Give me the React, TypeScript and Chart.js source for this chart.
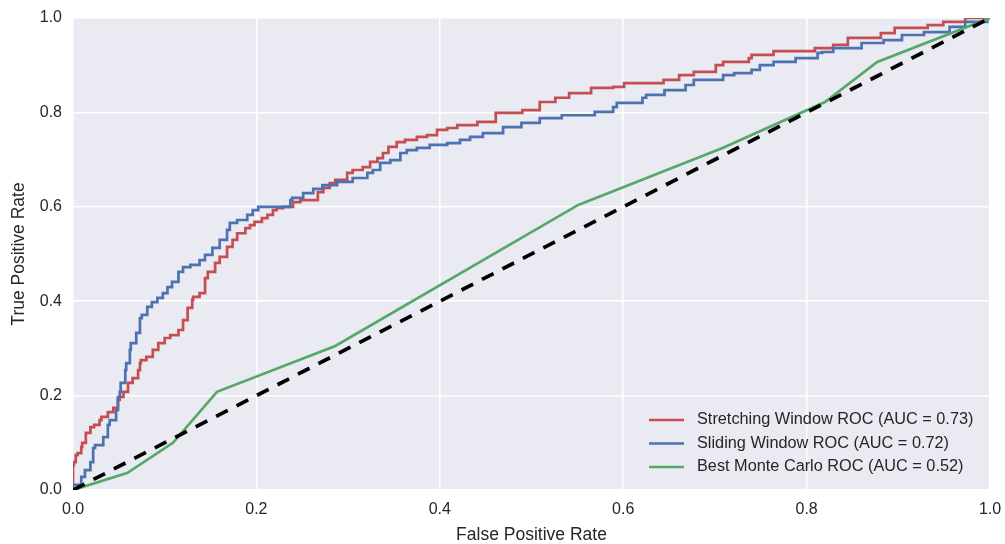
import { useEffect, useRef } from "react";
import { Chart, registerables } from "chart.js";

Chart.register(...registerables);

const FONT = '"Liberation Sans", Arial, Helvetica, sans-serif';
const TEXT_COLOR = "#262626";
const PANEL_BG = "#EAEAF2";

// axis ticks (both axes)
const tickValues = [0, 0.2, 0.4, 0.6, 0.8, 1.0];

// Stretching window ROC curve
const stretchFpr = [
  0, 0.001, 0.003, 0.005, 0.009, 0.01, 0.014, 0.019, 0.023, 0.029, 0.031, 0.038, 0.044, 0.049,
  0.051, 0.055, 0.06, 0.065, 0.071, 0.073, 0.074, 0.08, 0.087, 0.093, 0.1, 0.106, 0.115, 0.12,
  0.125, 0.13, 0.131, 0.138, 0.144, 0.147, 0.155, 0.16, 0.168, 0.174, 0.179, 0.188, 0.193, 0.198,
  0.206, 0.212, 0.218, 0.222, 0.229, 0.24, 0.248, 0.267, 0.273, 0.28, 0.286, 0.299, 0.305, 0.316,
  0.324, 0.332, 0.338, 0.344, 0.353, 0.362, 0.375, 0.386, 0.397, 0.408, 0.419, 0.441, 0.461, 0.49,
  0.509, 0.526, 0.541, 0.565, 0.589, 0.601, 0.644, 0.661, 0.677, 0.701, 0.709, 0.737, 0.74, 0.764,
  0.809, 0.829, 0.845, 0.881, 0.896, 0.932, 0.949, 0.973, 1.0,
];
const stretchTpr = [
  0, 0.053, 0.059, 0.074, 0.078, 0.091, 0.1, 0.121, 0.133, 0.138, 0.148, 0.155, 0.165, 0.174,
  0.191, 0.197, 0.208, 0.227, 0.237, 0.254, 0.269, 0.275, 0.282, 0.297, 0.311, 0.322, 0.328, 0.339,
  0.36, 0.386, 0.403, 0.409, 0.417, 0.449, 0.462, 0.481, 0.494, 0.515, 0.53, 0.544, 0.555, 0.561,
  0.568, 0.576, 0.583, 0.593, 0.597, 0.6, 0.61, 0.614, 0.631, 0.64, 0.65, 0.657, 0.672, 0.678,
  0.684, 0.695, 0.703, 0.714, 0.727, 0.737, 0.742, 0.748, 0.752, 0.763, 0.767, 0.773, 0.78, 0.799,
  0.805, 0.822, 0.831, 0.841, 0.852, 0.854, 0.862, 0.869, 0.879, 0.886, 0.9, 0.907, 0.915, 0.922,
  0.93, 0.936, 0.943, 0.958, 0.968, 0.979, 0.985, 0.992, 1.0,
];

// Sliding window ROC curve
const slidingFpr = [
  0, 0.009, 0.013, 0.019, 0.022, 0.024, 0.033, 0.038, 0.04, 0.047, 0.049, 0.051, 0.052, 0.057,
  0.058, 0.062, 0.063, 0.069, 0.073, 0.075, 0.081, 0.086, 0.092, 0.098, 0.103, 0.108, 0.115, 0.12,
  0.128, 0.138, 0.144, 0.152, 0.16, 0.168, 0.171, 0.179, 0.19, 0.196, 0.202, 0.215, 0.237, 0.239,
  0.251, 0.262, 0.272, 0.288, 0.305, 0.321, 0.327, 0.335, 0.346, 0.357, 0.364, 0.375, 0.389, 0.408,
  0.422, 0.433, 0.447, 0.469, 0.489, 0.509, 0.533, 0.569, 0.589, 0.593, 0.621, 0.625, 0.645, 0.668,
  0.677, 0.709, 0.721, 0.74, 0.749, 0.764, 0.788, 0.812, 0.817, 0.829, 0.86, 0.884, 0.904, 0.928,
  0.956, 0.973, 0.997, 1.0,
];
const slidingTpr = [
  0, 0.011, 0.028, 0.042, 0.059, 0.089, 0.095, 0.112, 0.138, 0.148, 0.169, 0.197, 0.208, 0.227,
  0.254, 0.269, 0.297, 0.311, 0.333, 0.364, 0.371, 0.388, 0.398, 0.407, 0.417, 0.43, 0.441, 0.462,
  0.472, 0.477, 0.487, 0.498, 0.513, 0.53, 0.551, 0.566, 0.572, 0.583, 0.593, 0.6, 0.6, 0.614,
  0.619, 0.629, 0.638, 0.646, 0.653, 0.661, 0.672, 0.678, 0.693, 0.699, 0.714, 0.72, 0.725, 0.731,
  0.735, 0.742, 0.748, 0.756, 0.769, 0.778, 0.788, 0.794, 0.801, 0.811, 0.82, 0.831, 0.837, 0.847,
  0.858, 0.869, 0.879, 0.883, 0.89, 0.9, 0.907, 0.915, 0.926, 0.928, 0.936, 0.947, 0.953, 0.964,
  0.97, 0.981, 0.992, 1.0,
];

// Best Monte Carlo ROC curve
const monteCarloFpr = [0, 0.059, 0.109, 0.157, 0.286, 0.551, 0.709, 0.82, 0.877, 1.0];
const monteCarloTpr = [0, 0.036, 0.1, 0.208, 0.305, 0.604, 0.725, 0.822, 0.907, 1.0];

// chance diagonal
const chanceFpr = [0, 1];
const chanceTpr = [0, 1];

const seriesLabels = [
  "Stretching Window ROC (AUC = 0.73)",
  "Sliding Window ROC (AUC = 0.72)",
  "Best Monte Carlo ROC (AUC = 0.52)",
];
const seriesColors = ["#C44E52", "#4C72B0", "#55A868"];

const toPoints = (xs: number[], ys: number[]) => xs.map((x, i) => ({ x, y: ys[i] }));

const fmtTick = (v: number | string) => Number(v).toFixed(1);

// paints the grey plotting panel behind grid and lines
const panelBackground = {
  id: "panelBackground",
  beforeDraw(chart: any) {
    const { ctx, chartArea } = chart;
    ctx.save();
    ctx.fillStyle = PANEL_BG;
    ctx.fillRect(chartArea.left, chartArea.top, chartArea.right - chartArea.left, chartArea.bottom - chartArea.top);
    ctx.restore();
  },
};

// frameless legend in the lower-right corner of the panel
const cornerLegend = {
  id: "cornerLegend",
  afterDatasetsDraw(chart: any) {
    const { ctx, chartArea } = chart;
    const fontSize = 16.3;
    const rowGap = 23.5;
    const sampleLen = 35;
    const sampleGap = 13;
    ctx.save();
    ctx.font = `${fontSize}px ${FONT}`;
    const textX = chartArea.right - 293;
    const sampleX = textX - sampleGap - sampleLen;
    const lastY = chartArea.bottom - 23;
    seriesLabels.forEach((label, i) => {
      const y = lastY - (seriesLabels.length - 1 - i) * rowGap;
      ctx.strokeStyle = seriesColors[i];
      ctx.lineWidth = 2.7;
      ctx.lineCap = "butt";
      ctx.beginPath();
      ctx.moveTo(sampleX, y);
      ctx.lineTo(sampleX + sampleLen, y);
      ctx.stroke();
      ctx.fillStyle = TEXT_COLOR;
      ctx.textAlign = "left";
      ctx.textBaseline = "middle";
      ctx.fillText(label, textX, y);
    });
    ctx.restore();
  },
};

export default function App() {
  const canvasRef = useRef<HTMLCanvasElement | null>(null);

  useEffect(() => {
    if (!canvasRef.current) return;
    Chart.defaults.font.family = FONT;
    Chart.defaults.color = TEXT_COLOR;

    const rocLine = (label: string, color: string, xs: number[], ys: number[], order: number, stepped: any) => ({
      label,
      data: toPoints(xs, ys),
      borderColor: color,
      backgroundColor: color,
      borderWidth: 2.7,
      pointRadius: 0,
      tension: 0,
      stepped,
      fill: false,
      order,
    });

    const tickFont = { size: 16, family: FONT };
    const titleFont = { size: 17.5, family: FONT, lineHeight: 1 };

    const chart = new Chart(canvasRef.current, {
      type: "line",
      data: {
        datasets: [
          rocLine(seriesLabels[0], seriesColors[0], stretchFpr, stretchTpr, 3, "after"),
          rocLine(seriesLabels[1], seriesColors[1], slidingFpr, slidingTpr, 2, "after"),
          rocLine(seriesLabels[2], seriesColors[2], monteCarloFpr, monteCarloTpr, 1, false),
          {
            label: "chance",
            data: toPoints(chanceFpr, chanceTpr),
            borderColor: "#000000",
            borderWidth: 3.7,
            borderDash: [13, 10],
            pointRadius: 0,
            fill: false,
            order: 0,
          },
        ],
      },
      options: {
        responsive: false,
        animation: false,
        devicePixelRatio: 1,
        layout: { padding: { top: 18, right: 15, left: 0, bottom: 0 } },
        plugins: {
          legend: { display: false },
          tooltip: { enabled: false },
        },
        scales: {
          x: {
            type: "linear",
            min: 0,
            max: 1,
            afterBuildTicks: (scale: any) => {
              scale.ticks = tickValues.map((value) => ({ value }));
            },
            afterFit: (scale: any) => {
              scale.height = 54;
              scale.paddingLeft = 0;
              scale.paddingRight = 0;
            },
            ticks: { callback: fmtTick, font: tickFont, color: TEXT_COLOR, padding: 10, maxRotation: 0 },
            grid: { color: "#ffffff", lineWidth: 1.5, drawTicks: false },
            border: { display: false },
            title: {
              display: true,
              text: "False Positive Rate",
              font: titleFont,
              color: TEXT_COLOR,
              padding: { top: 4, bottom: 0 },
            },
          },
          y: {
            type: "linear",
            min: 0,
            max: 1,
            afterBuildTicks: (scale: any) => {
              scale.ticks = tickValues.map((value) => ({ value }));
            },
            afterFit: (scale: any) => {
              scale.width = 73;
              scale.paddingTop = 0;
              scale.paddingBottom = 0;
            },
            ticks: { callback: fmtTick, font: tickFont, color: TEXT_COLOR, padding: 11 },
            grid: { color: "#ffffff", lineWidth: 1.5, drawTicks: false },
            border: { display: false },
            title: {
              display: true,
              text: "True Positive Rate",
              font: titleFont,
              color: TEXT_COLOR,
              padding: { top: 10, bottom: 0 },
            },
          },
        },
      },
      plugins: [panelBackground, cornerLegend],
    } as any);

    return () => chart.destroy();
  }, []);

  return (
    <div style={{ position: "fixed", left: 0, top: 0, width: 1005, height: 544, background: "#ffffff" }}>
      <canvas ref={canvasRef} width={1005} height={544} style={{ display: "block" }} />
    </div>
  );
}
